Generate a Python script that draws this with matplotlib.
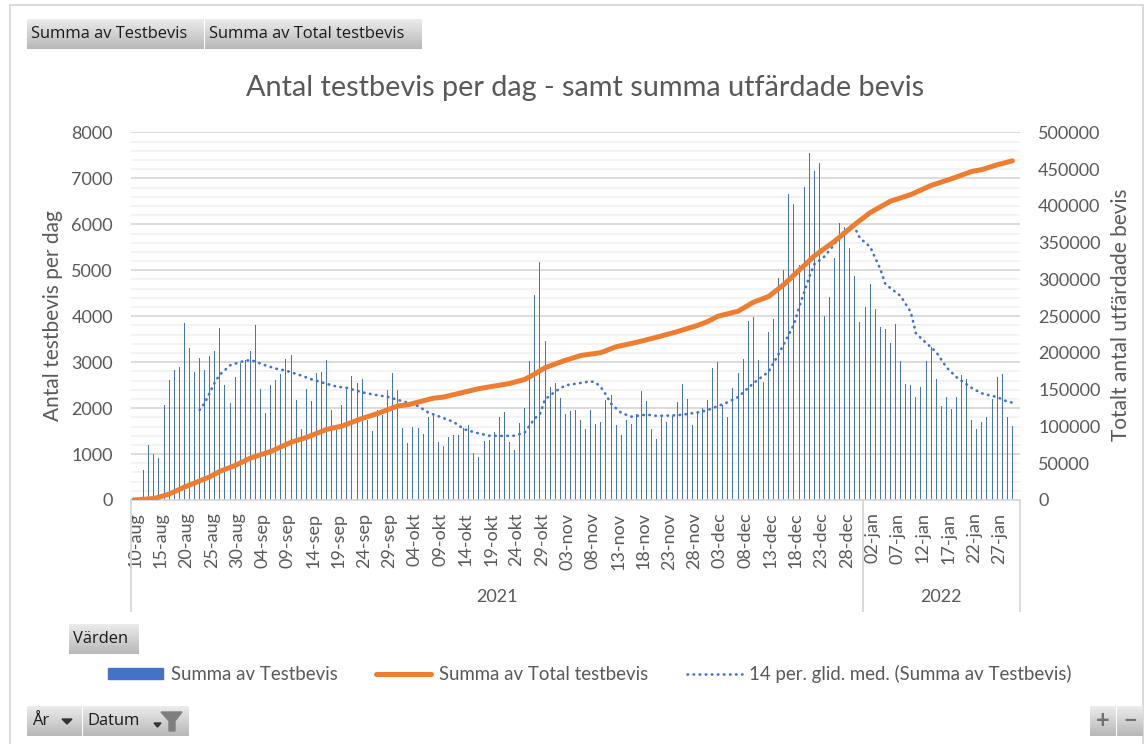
import numpy as np
import matplotlib
matplotlib.use("Agg")
import matplotlib.pyplot as plt
from matplotlib.lines import Line2D
from matplotlib.patches import Patch, Rectangle
from matplotlib.transforms import ScaledTranslation

W, H = 1145, 744

# day index 0 = 10-aug-2021, one bar per day from index 2
testbevis = [
    653, 1198, 1002, 907, 2062, 2614, 2831, 2904, 3862, 3318,
    2788, 3085, 2831, 3136, 3252, 3739, 2505, 2105, 2686, 2977,
    3049, 3252, 3811, 2410, 1888, 2505, 2614, 2737, 3071, 3158,
    2178, 1546, 2410, 2156, 2759, 2780, 3049, 1960, 1525, 2062,
    2454, 2708, 2541, 2643, 1742, 1503, 1960, 1851, 2388, 2759,
    2388, 1575, 1249, 1590, 1575,
    1430, 1800, 1851, 1263, 1176, 1365, 1408, 1408, 1561, 1634,
    1031, 937, 1285, 1307, 1474, 1800, 1917, 1270, 1082, 1684,
    1997, 3020, 4465, 5191, 3463, 2468, 2541, 2222, 1873, 1938,
    1967, 1735, 1546, 1967, 1663, 1706, 2178, 2287, 1634, 1408,
    1735, 1663, 1873, 2367, 2156, 1546, 1336, 1830, 1692, 1830,
    2127, 2526, 2200, 1641, 1902, 1997, 2178, 2875, 2998,
    2069, 1800, 2432, 2759, 3064, 3906, 3978, 3042, 2577, 3652,
    3935, 4842, 5002, 6665, 6454, 5118, 6803, 7550, 7158, 7340,
    4000, 4421, 5264, 6026, 5953, 5488, 4886, 3884, 4211, 4704,
    4160, 3768, 3717, 3419, 3833, 3020, 2526, 2505, 2251, 2461,
    3020, 3340, 2643, 2040, 2251, 1989, 2251, 2715, 2643, 1735,
    1546, 1706, 1800, 2200, 2672, 2737, 1800, 1612,
]
first_bar_day = 2

total_day = [0, 4, 7, 10, 15, 17, 20, 23, 27, 31, 34, 38, 41, 45, 48, 52, 54, 59, 61,
             68, 74, 77, 79, 81, 85, 88, 92, 95, 99, 103, 107, 111, 113, 115, 119,
             122, 125, 128, 132, 134, 138, 142, 145, 149, 153, 157, 161, 165, 167, 170, 173]
total_vals = [0, 2000, 8000, 17500, 31500, 39000, 47000, 57000, 66000, 78500, 85000,
              96000, 100500, 111000, 117500, 128000, 129500, 138500, 140000, 151500,
              158500, 164000, 171500, 180000, 190000, 196500, 200500, 208500, 214500,
              221500, 229000, 237500, 242700, 250000, 256800, 269000, 276800, 293000,
              319000, 332000, 352000, 375000, 391000, 406500, 415500, 428000, 437000,
              447000, 449500, 456000, 461500]

ma_day = [13, 14, 16, 17, 19, 21, 23, 26, 28, 30, 33, 35, 38, 40, 42, 45, 47, 50, 52, 55,
          56, 58, 60, 63, 65, 67, 70, 72, 75, 77, 79, 80, 81, 83, 85, 87, 90, 91, 92, 93,
          94, 96, 98, 101, 103, 106, 108, 111, 113,
          114, 117, 119, 122, 125, 127, 130, 131, 133, 134, 136, 138, 139, 141, 142, 143,
          145, 147, 148, 151, 153, 154, 156, 158, 160, 162, 165, 167, 170, 172, 173]
ma_vals = [1960, 2110, 2560, 2730, 2930, 3005, 3050, 2930, 2860, 2815, 2710, 2628, 2530,
           2468, 2440, 2345, 2300, 2245, 2180, 2090,
           2045, 1905, 1825, 1700, 1545, 1475, 1400, 1394, 1400, 1470, 1780, 1870, 2190,
           2360, 2497, 2530, 2584, 2555, 2454, 2290, 2095, 1895, 1815, 1860, 1830, 1840,
           1855, 1905, 1955,
           2000, 2130, 2240, 2540, 2790, 3180, 3820, 4190, 4850, 5130, 5300, 5570, 5760,
           5945, 5920, 5700, 5510, 5030, 4700, 4440, 4090, 3630, 3420, 3223, 2890, 2672,
           2439, 2320, 2240, 2142, 2120]

tick_labels = ["10-aug", "15-aug", "20-aug", "25-aug", "30-aug", "04-sep", "09-sep",
               "14-sep", "19-sep", "24-sep", "29-sep", "04-okt", "09-okt", "14-okt",
               "19-okt", "24-okt", "29-okt", "03-nov", "08-nov", "13-nov", "18-nov",
               "23-nov", "28-nov", "03-dec", "08-dec", "13-dec", "18-dec", "23-dec",
               "28-dec", "02-jan", "07-jan", "12-jan", "17-jan", "22-jan", "27-jan"]
n_days = 175

BLUE = "#4472C4"
ORANGE = "#ED7D31"
GREY = "#595959"
DOTS = (0, (0.2, 2.1))
plt.rcParams["font.family"] = ["Lato", "DejaVu Sans"]


def fx(px):
    return px / W


def fy(py):
    return 1 - py / H


def button(x0, y0, x1, y1, label=None, tx=None, size=11.9):
    b = fig.add_axes([fx(x0), fy(y1), (x1 - x0) / W, (y1 - y0) / H])
    b.imshow(np.linspace(0.92, 0.72, 30).reshape(-1, 1), aspect="auto", cmap="gray", vmin=0, vmax=1)
    b.axis("off")
    if label:
        b.text((tx - x0) / (x1 - x0), 0.5, label, family=["Open Sans", "DejaVu Sans"], transform=b.transAxes,
               fontsize=size, color="#1a1a1a", va="center", ha="left")


fig = plt.figure(figsize=(W / 100, H / 100), dpi=100)
fig.add_artist(Rectangle((fx(10), -0.01), fx(1143 - 10), fy(5) + 0.01, transform=fig.transFigure,
                         fc="white", ec="#d9d9d9", lw=1.4, zorder=-5))

ax = fig.add_axes([fx(131), fy(500), (1020 - 131) / W, (500 - 132.5) / H])
ax.set_xlim(-0.5, n_days - 0.5)
ax.set_ylim(0, 8000)
ax.set_yticks(np.arange(0, 8001, 1000))
ax.set_yticks(np.arange(0, 8001, 200), minor=True)
ax.grid(True, which="major", axis="y", color="#d9d9d9", lw=1.3)
ax.grid(True, which="minor", axis="y", color="#f2f2f2", lw=1.3)
ax.set_axisbelow(True)
ax.tick_params(axis="y", which="both", length=0, labelsize=13, labelcolor=GREY, pad=13)
for s in ["top", "left", "right"]:
    ax.spines[s].set_visible(False)
ax.spines["bottom"].set_color("#d9d9d9")
ax.spines["bottom"].set_linewidth(1.3)

days = np.arange(len(testbevis)) + first_bar_day
ax.bar(days, testbevis, width=0.2, color=BLUE, lw=0)
ax.plot(ma_day, ma_vals, color=BLUE, lw=1.9, ls=DOTS, dash_capstyle="round")

ax.set_xticks(np.arange(0, n_days, 5))
ax.set_xticklabels(tick_labels, rotation=90, fontsize=13, color=GREY, ha="center", va="top")
ax.tick_params(axis="x", length=0, pad=9)
# labels sit a bit to the right of the day they belong to
shift = ScaledTranslation(2 / 100, 0, fig.dpi_scale_trans)
for lab in ax.get_xticklabels():
    lab.set_transform(lab.get_transform() + shift)

ax2 = ax.twinx()
ax2.set_ylim(0, 500000)
ax2.set_yticks(np.arange(0, 500001, 50000))
ax2.tick_params(axis="y", length=0, labelsize=13, labelcolor=GREY, pad=13)
for s in ax2.spines.values():
    s.set_visible(False)
ax2.plot(total_day, total_vals, color=ORANGE, lw=3.6, solid_capstyle="round", solid_joinstyle="round")

# two level category axis
for px in [131, 862.5, 1020]:
    fig.add_artist(Line2D([fx(px), fx(px)], [fy(500), fy(611)], color="#d9d9d9", lw=1.4))
fig.text(fx(497), fy(597), "2021", fontsize=13, color=GREY, ha="center", va="center")
fig.text(fx(941), fy(597), "2022", fontsize=13, color=GREY, ha="center", va="center")

fig.text(fx(585), fy(88), "Antal testbevis per dag - samt summa utfärdade bevis",
         fontsize=20.8, color=GREY, ha="center", va="center")
fig.text(fx(53.5), fy(316), "Antal testbevis per dag", rotation=90, fontsize=15, color=GREY,
         ha="center", va="center")
fig.text(fx(1121), fy(315), "Totalt antal utfärdade bevis", rotation=90, fontsize=15, color=GREY,
         ha="center", va="center")

handles = [Patch(color=BLUE), Line2D([], [], color=ORANGE, lw=3.6, solid_capstyle="round"),
           Line2D([], [], color=BLUE, lw=1.9, ls=DOTS, dash_capstyle="round")]
labels = ["Summa av Testbevis", "Summa av Total testbevis", "14 per. glid. med. (Summa av Testbevis)"]
fig.legend(handles, labels, loc="center", bbox_to_anchor=(fx(590), fy(674)), ncol=3, frameon=False,
           fontsize=13.4, labelcolor=GREY, handlelength=2.95, handleheight=0.55, handletextpad=0.4,
           columnspacing=2.1)

button(27, 19, 204, 49, "Summa av Testbevis", 31)
button(205, 19, 422, 49, "Summa av Total testbevis", 209)
button(69, 624, 139, 654, "Värden", 73)
button(27, 706, 82, 736, "År", 32)
button(83, 706, 189, 736, "Datum", 87)
button(1090, 706, 1116, 736)
button(1117, 706, 1143, 736)
fig.text(fx(1103), fy(720), "+", fontsize=17, fontweight="bold", color="#707070", ha="center", va="center")
fig.text(fx(1130), fy(720), "−", fontsize=17, fontweight="bold", color="#707070", ha="center", va="center")

# small drop arrows and the filter sign of the pivot buttons
ar = fig.add_axes([0, 0, 1, 1], facecolor="none")
ar.set_xlim(0, W)
ar.set_ylim(H, 0)
ar.axis("off")
ar.fill([62, 72, 67], [719, 719, 724], color="#333333")
ar.fill([154, 161, 157.5], [723, 723, 727], color="#333333")
ar.fill([161, 182, 175, 175, 169, 169], [712, 712, 721, 731, 731, 721], color="#7f7f7f")

fig.savefig("out.png", dpi=100)
